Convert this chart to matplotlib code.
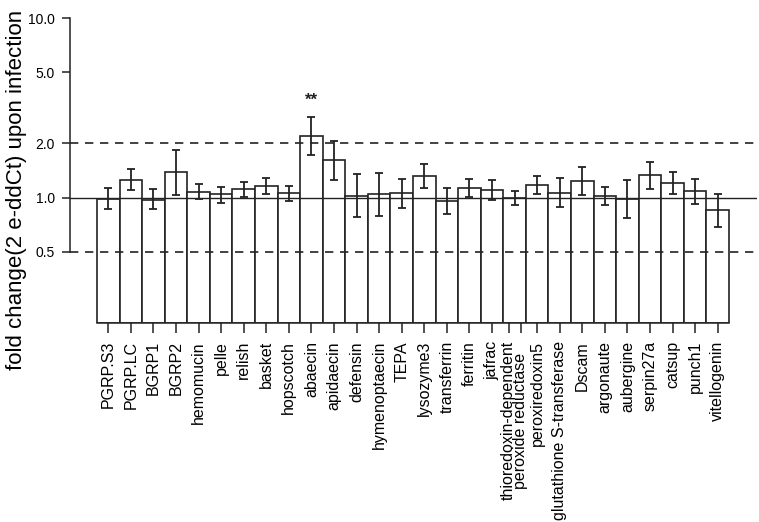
import numpy as np
import matplotlib.pyplot as plt

plt.rcParams['font.family'] = ['Liberation Sans', 'DejaVu Sans']

# genes and fold change values
genes = ['PGRP.S3', 'PGRP.LC', 'BGRP1', 'BGRP2', 'hemomucin', 'pelle', 'relish',
         'basket', 'hopscotch', 'abaecin', 'apidaecin', 'defensin', 'hymenoptaecin',
         'TEPA', 'lysozyme3', 'transferrin', 'ferritin', 'jafrac',
         'thioredoxin-dependent\nperoxide reductase', 'peroxiredoxin5',
         'glutathione S-transferase', 'Dscam', 'argonaute', 'aubergine',
         'serpin27a', 'catsup', 'punch1', 'vitellogenin']
fold = [0.98, 1.26, 0.97, 1.38, 1.08, 1.04, 1.11, 1.16, 1.055, 2.20, 1.61, 1.02,
        1.04, 1.055, 1.32, 0.956, 1.13, 1.10, 0.994, 1.174, 1.064, 1.236, 1.015,
        0.985, 1.33, 1.21, 1.083, 0.848]
err_hi = [1.134, 1.436, 1.115, 1.84, 1.19, 1.149, 1.22, 1.289, 1.159, 2.81, 2.06, 1.346,
          1.375, 1.263, 1.537, 1.125, 1.268, 1.247, 1.083, 1.318, 1.279, 1.485, 1.14,
          1.25, 1.577, 1.387, 1.273, 1.04]
err_lo = [0.86, 1.101, 0.86, 1.03, 0.98, 0.935, 1.01, 1.04, 0.956, 1.72, 1.25, 0.779,
          0.79, 0.877, 1.125, 0.809, 1.01, 0.965, 0.905, 1.05, 0.882, 1.03, 0.908,
          0.772, 1.115, 1.05, 0.92, 0.688]
signif = {'abaecin': '**'}

yticks = [0.5, 1.0, 2.0, 5.0, 10.0]
base = 0.2

fig = plt.figure(figsize=(7.59, 5.22), dpi=100)
W, H = 759, 522
ax = fig.add_axes([70 / W, (H - 323) / H, (757 - 70) / W, (323 - 18) / H])

x = np.arange(len(genes))
fold = np.array(fold)
ax.bar(x, fold - base, bottom=base, width=1.0, color='white', edgecolor='#222222',
       linewidth=1.2, zorder=2)
yerr = [fold - np.array(err_lo), np.array(err_hi) - fold]
ax.errorbar(x, fold, yerr=yerr, fmt='none', ecolor='#222222', elinewidth=1.3,
            capsize=3, capthick=1.3, zorder=4)

ax.axhline(1.0, color='#222222', lw=1.0, zorder=3)
for v in (0.5, 2.0):
    ax.axhline(v, color='#222222', lw=1.2, ls=(0, (5, 4)), zorder=3)

for g, s in signif.items():
    i = genes.index(g)
    ax.text(i, err_hi[i] * 1.12, s, ha='center', va='bottom', fontsize=12,
            fontweight='bold', color='#222222')

ax.set_yscale('log')
ax.set_ylim(base, 10)
ax.set_xlim(-0.5 - 27 / 22.57, -0.5 + (757 - 97) / 22.57)
ax.set_yticks(yticks)
ax.set_yticklabels(['%.1f' % v for v in yticks])
ax.yaxis.set_minor_locator(plt.NullLocator())

# labels on major ticks (no mark), tick marks as minor ticks;
# the two-line label gets one tick mark per line
mark_pos = []
for i, g in enumerate(genes):
    if '\n' in g:
        mark_pos += [i - 0.25, i + 0.27]
    else:
        mark_pos.append(i)
ax.xaxis.remove_overlapping_locs = False
ax.set_xticks(x + 0.0)
ax.set_xticklabels(genes, rotation=90, fontsize=11.5)
ax.set_xticks(mark_pos, minor=True)
for lab in ax.get_xticklabels():
    if '\n' in lab.get_text():
        lab.set_linespacing(0.72)
ax.tick_params(axis='x', which='major', length=0, pad=13)
ax.tick_params(axis='x', which='minor', length=7, width=1.1, color='#222222')
ax.tick_params(axis='y', length=6, width=1.1, pad=5, labelsize=10, colors='#222222')
for lab in ax.get_xticklabels() + ax.get_yticklabels():
    lab.set_color('black')

for s in ('top', 'right'):
    ax.spines[s].set_visible(False)
ax.spines['left'].set_bounds(0.5, 10)
ax.spines['bottom'].set_bounds(-0.5, 27.5)
for s in ('left', 'bottom'):
    ax.spines[s].set_linewidth(1.1)
    ax.spines[s].set_color('#222222')

fig.text(17 / W, (H - 370) / H, 'fold change(2 e-ddCt) upon infection', rotation=90,
         ha='center', va='bottom', fontsize=16)

fig.savefig('out.png', dpi=100)
